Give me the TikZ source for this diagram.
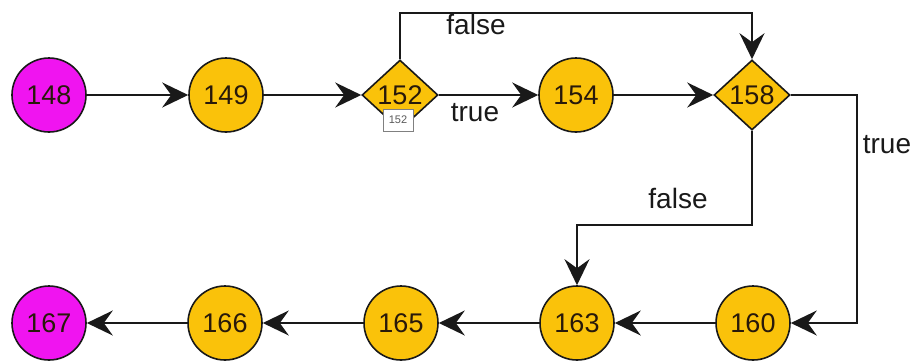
\documentclass[tikz,border=0pt]{standalone}
\usepackage{fontspec}
\setmainfont{Liberation Sans}
\usetikzlibrary{shapes.geometric,arrows.meta}
\definecolor{gold}{RGB}{250,194,10}
\definecolor{mag}{RGB}{240,20,240}
\definecolor{edge}{RGB}{25,25,25}
\definecolor{txt}{RGB}{40,25,10}
\tikzset{
  x=1pt,y=-1pt,
  numfont/.style={font=\fontsize{27}{30}\selectfont, text=txt},
  circ/.style={circle, draw=edge, line width=1.6pt, minimum size=74pt, inner sep=0pt, numfont},
  goldc/.style={circ, fill=gold},
  magc/.style={circ, fill=mag},
  dia/.style={diamond, draw=edge, line width=1.6pt, fill=gold, minimum width=76pt, minimum height=70pt, inner sep=0pt, numfont},
  arr/.style={draw=edge, line width=1.8pt, -{Stealth[length=26pt,width=25pt,inset=9pt]}},
  lbl/.style={font=\fontsize{28}{30}\selectfont, text=edge, inner sep=0pt},
  tag/.style={draw=gray, line width=0.8pt, fill=white, font=\fontsize{11}{12}\selectfont, text=gray!70!black, minimum width=30pt, minimum height=22pt, inner sep=0pt}
}
\begin{document}
\begin{tikzpicture}
\useasboundingbox (0,0) rectangle (915,360);
\node[magc]  (n148) at (49,95) {148};
\node[goldc] (n149) at (226,95) {149};
\node[dia]   (d152) at (400,95) {152};
\node[tag]   (t152) at (398,120) {152};
\node[goldc] (n154) at (576,95) {154};
\node[dia]   (d158) at (752,95) {158};
\node[goldc] (n160) at (753,323) {160};
\node[goldc] (n163) at (577,323) {163};
\node[goldc] (n165) at (401,323) {165};
\node[goldc] (n166) at (225,323) {166};
\node[magc]  (n167) at (49,323) {167};

\coordinate (topc) at (576,13);
\coordinate (rc) at (857,200);
\coordinate (fc) at (660,225);

\draw[arr] (n148) -- (n149);
\draw[arr] (n149) -- (d152);
\draw[arr] (d152) -- (n154);
\draw[arr] (d152.north) |- (topc) -| (d158.north);
\draw[arr] (n154) -- (d158);
\draw[arr] (d158.east) -| (rc) |- (n160.east);
\draw[arr] (d158.south) |- (fc) -| (n163.north);
\draw[arr] (n160) -- (n163);
\draw[arr] (n163) -- (n165);
\draw[arr] (n165) -- (n166);
\draw[arr] (n166) -- (n167);

\node[lbl] (lf1) at (476,24) {false};
\node[lbl] (lt1) at (475,113) {true};
\node[lbl] (lt2) at (887,145) {true};
\node[lbl] (lf2) at (678,198) {false};
\end{tikzpicture}
\end{document}
